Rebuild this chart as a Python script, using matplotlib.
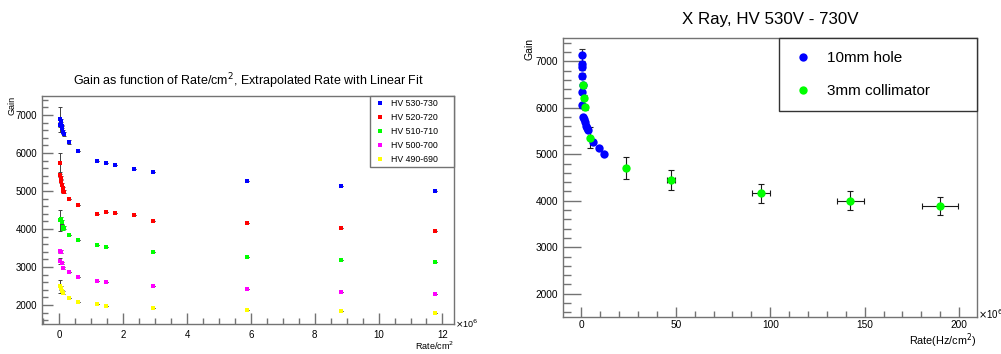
import matplotlib
matplotlib.use('Agg')
import matplotlib.pyplot as plt
from matplotlib.ticker import MultipleLocator
from matplotlib.lines import Line2D

plt.rcParams['font.family'] = ['Liberation Sans', 'DejaVu Sans']

# Left panel: gain vs extrapolated rate (x 1e6 Hz/cm2)
hv_labels = ['HV 530-730', 'HV 520-720', 'HV 510-710', 'HV 500-700', 'HV 490-690']
hv_colors = ['#0000ff', '#ff0000', '#00ff00', '#ff00ff', '#ffff00']

blue_x = [0.015, 0.03, 0.044, 0.059, 0.074, 0.088, 0.118, 0.147, 0.294, 0.588, 1.18, 1.47, 1.76, 2.35, 2.94, 5.88, 8.82, 11.76]
blue_y = [6890, 6750, 6830, 6760, 6700, 6660, 6550, 6510, 6290, 6050, 5800, 5730, 5680, 5575, 5505, 5260, 5130, 5000]
blue_err = [330, 60, 60, 60, 50, 50, 50, 50, 40, 0, 0, 0, 0, 0, 0, 0, 0, 0]

red_x = [0.015, 0.03, 0.044, 0.059, 0.088, 0.103, 0.118, 0.147, 0.294, 0.588, 1.18, 1.47, 1.76, 2.35, 2.94, 5.88, 8.82, 11.76]
red_y = [5750, 5410, 5340, 5270, 5160, 5070, 4990, 4985, 4780, 4630, 4390, 4455, 4420, 4370, 4200, 4150, 4040, 3955]
red_err = [250, 50, 50, 50, 40, 40, 40, 40, 0, 0, 0, 0, 0, 0, 0, 0, 0, 0]

green_x = [0.015, 0.044, 0.074, 0.103, 0.118, 0.147, 0.294, 0.588, 1.18, 1.47, 2.94, 5.88, 8.82, 11.76]
green_y = [4225, 4255, 4180, 4050, 4010, 4030, 3840, 3700, 3570, 3530, 3385, 3265, 3175, 3125]
green_err = [280, 50, 50, 40, 40, 40, 0, 0, 0, 0, 0, 0, 0, 0]

mag_x = [0.015, 0.03, 0.044, 0.074, 0.118, 0.294, 0.588, 1.18, 1.47, 2.94, 5.88, 8.82, 11.76]
mag_y = [3160, 3420, 3400, 3110, 2975, 2870, 2740, 2635, 2610, 2510, 2425, 2345, 2300]
mag_err = [80, 40, 40, 30, 30, 0, 0, 0, 0, 0, 0, 0, 0]

yel_x = [0.015, 0.044, 0.088, 0.118, 0.294, 0.588, 1.18, 1.47, 2.94, 5.88, 8.82, 11.76]
yel_y = [2495, 2450, 2360, 2320, 2180, 2090, 2020, 1985, 1925, 1875, 1830, 1795]
yel_err = [175, 50, 40, 40, 0, 0, 0, 0, 0, 0, 0, 0]

# Right panel: X ray, HV 530V - 730V
hole_x = [0.3, 0.3, 0.4, 0.5, 0.6, 0.4, 0.3, 0.9, 1.3, 1.8, 2.3, 3.0, 3.6, 6.2, 9.3, 12.1]
hole_y = [7130, 6950, 6880, 6680, 6480, 6340, 6050, 5800, 5750, 5700, 5610, 5560, 5520, 5270, 5130, 5000]
hole_yerr = [140, 60, 60, 60, 50, 50, 50, 40, 40, 40, 40, 40, 40, 40, 40, 40]

col_x = [0.6, 1.5, 1.9, 4.7, 23.7, 47.4, 94.9, 142.4, 189.9]
col_y = [6490, 6220, 6010, 5360, 4700, 4445, 4160, 4005, 3890]
col_xerr = [0, 0, 0, 0.5, 1.2, 2.3, 4.8, 7.2, 9.5]
col_yerr = [50, 60, 60, 220, 240, 220, 200, 195, 190]

frame_col = '0.45'


def root_style(ax, lab_size, major_len, minor_len):
    for s in ax.spines.values():
        s.set_color(frame_col)
        s.set_linewidth(1.0)
    ax.tick_params(which='both', direction='in', top=False, right=False,
                   color=frame_col, labelsize=lab_size)
    ax.tick_params(which='major', length=major_len, width=1.0)
    ax.tick_params(which='minor', length=minor_len, width=1.0)


fig = plt.figure(figsize=(10.01, 3.54), dpi=100)

# ---- left
ax1 = fig.add_axes([0.042, 0.0847, 0.4115, 0.644])
series = [(blue_x, blue_y, blue_err), (red_x, red_y, red_err), (green_x, green_y, green_err),
          (mag_x, mag_y, mag_err), (yel_x, yel_y, yel_err)]
for (x, y, e), c in zip(series, hv_colors):
    ax1.errorbar(x, y, yerr=e, fmt='none', ecolor='0.25', elinewidth=0.7, capsize=1.5, capthick=0.7)
    ax1.plot(x, y, 's', color=c, markersize=2.6, markeredgewidth=0)
ax1.set_xlim(-0.54, 12.36)
ax1.set_ylim(1500, 7500)
ax1.xaxis.set_major_locator(MultipleLocator(2))
ax1.xaxis.set_minor_locator(MultipleLocator(0.5))
ax1.yaxis.set_major_locator(MultipleLocator(1000))
ax1.yaxis.set_minor_locator(MultipleLocator(200))
root_style(ax1, 7, 8, 4)
ax1.tick_params(axis='x', pad=4)
ax1.set_title('Gain as function of Rate/cm$^2$, Extrapolated Rate with Linear Fit',
              fontsize=9, pad=8)
ax1.text(-0.072, 1.0, 'Gain', rotation=90, ha='center', va='top', fontsize=6.5,
         transform=ax1.transAxes)
ax1.text(1.0, -0.095, 'Rate/cm$^2$', ha='right', va='center', fontsize=6.5,
         transform=ax1.transAxes)
ax1.text(1.003, 0.0, r'$\times$10$^6$', ha='left', va='center', fontsize=6.5,
         transform=ax1.transAxes)
h1 = [Line2D([], [], ls='none', marker='s', markersize=2.6, markeredgewidth=0, color=c)
      for c in hv_colors]
leg1 = ax1.legend(h1, hv_labels, loc='upper left', bbox_to_anchor=(0.796, 1.0, 0.204, 0.0),
                  mode='expand', fontsize=6.3, frameon=True, fancybox=False, borderaxespad=0,
                  labelspacing=0.57, handlelength=1.7, handletextpad=0.4,
                  borderpad=0.35, framealpha=1)
leg1.get_frame().set_edgecolor(frame_col)
leg1.get_frame().set_linewidth(1.0)

# ---- right
ax2 = fig.add_axes([0.5624, 0.1045, 0.4136, 0.788])
ax2.errorbar(hole_x, hole_y, yerr=hole_yerr, fmt='none', ecolor='0.2',
             elinewidth=0.8, capsize=2, capthick=0.8)
ax2.errorbar(col_x, col_y, xerr=col_xerr, yerr=col_yerr, fmt='none', ecolor='0.1',
             elinewidth=0.8, capsize=2, capthick=0.8)
ax2.plot(hole_x, hole_y, 'o', color='#0000ff', markersize=6, markeredgewidth=0)
ax2.plot(col_x, col_y, 'o', color='#00ff00', markersize=6, markeredgewidth=0)
ax2.set_xlim(-9.8, 209.5)
ax2.set_ylim(1500, 7500)
ax2.xaxis.set_major_locator(MultipleLocator(50))
ax2.xaxis.set_minor_locator(MultipleLocator(10))
ax2.yaxis.set_major_locator(MultipleLocator(1000))
ax2.yaxis.set_minor_locator(MultipleLocator(200))
root_style(ax2, 7.3, 13, 6)
ax2.tick_params(axis='x', which='major', length=7)
ax2.tick_params(axis='x', which='minor', length=4)
ax2.tick_params(axis='x', pad=2)
ax2.set_title('X Ray, HV 530V - 730V', fontsize=12.2, pad=10)
ax2.text(-0.08, 1.0, 'Gain', rotation=90, ha='center', va='top', fontsize=7.5,
         transform=ax2.transAxes)
ax2.text(1.0, -0.052, 'Rate(Hz/cm$^2$)', ha='right', va='top', fontsize=7.8,
         transform=ax2.transAxes)
ax2.text(1.002, 0.01, r'$\times$10$^6$', ha='left', va='center', fontsize=7,
         transform=ax2.transAxes)
h2 = [Line2D([], [], ls='none', marker='o', markersize=6, markeredgewidth=0, color='#0000ff'),
      Line2D([], [], ls='none', marker='o', markersize=6, markeredgewidth=0, color='#00ff00')]
leg2 = ax2.legend(h2, ['10mm hole', '3mm collimator'], loc='upper left',
                  bbox_to_anchor=(0.5217, 1.0, 0.4783, 0.0), mode='expand',
                  fontsize=11, frameon=True, fancybox=False,
                  borderaxespad=0, labelspacing=1.26, handlelength=1.44, handletextpad=0.85,
                  borderpad=0.85, framealpha=1)
leg2.get_frame().set_edgecolor('0.2')
leg2.get_frame().set_linewidth(1.0)

fig.savefig('out.png', dpi=100)
